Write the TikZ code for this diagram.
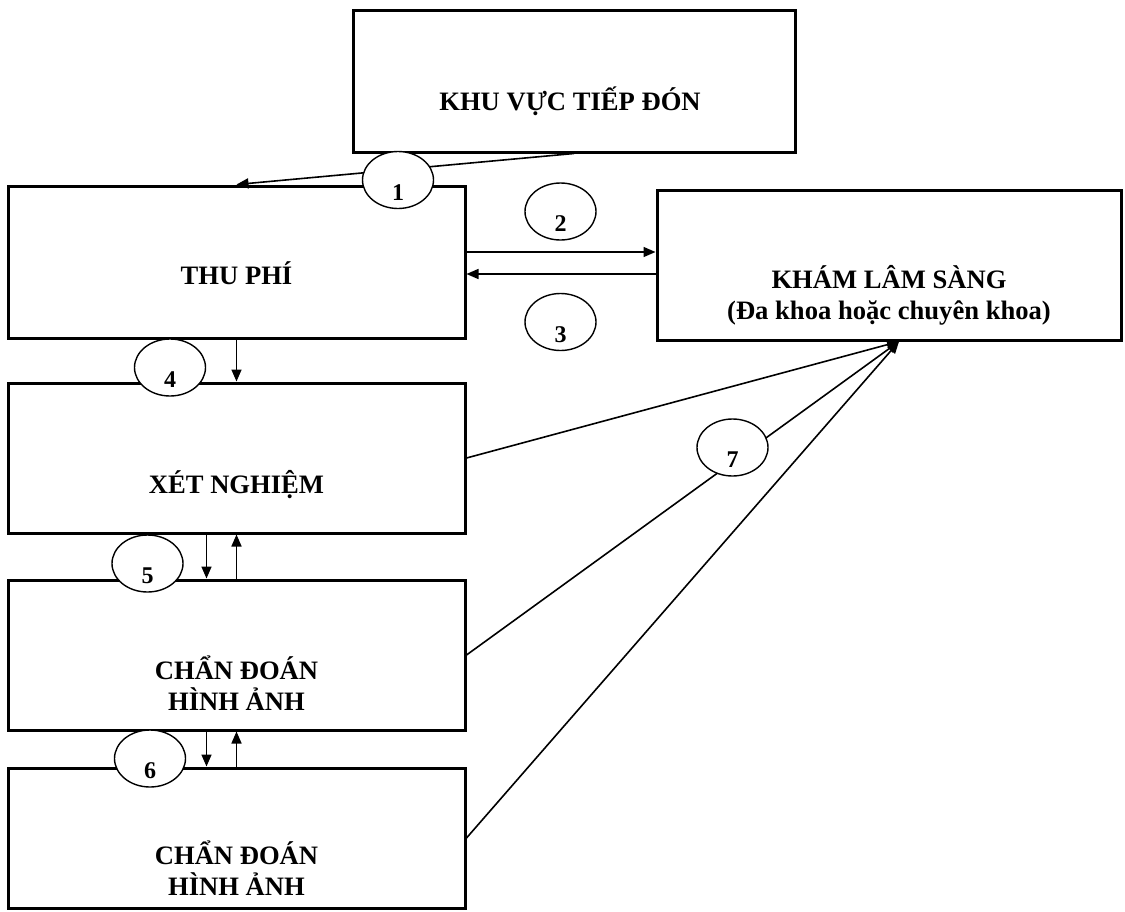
\documentclass[tikz,border=0pt]{standalone}
\usepackage{fontspec}
\setmainfont{Liberation Serif}
\usepackage{tikz}
\usetikzlibrary{positioning,arrows.meta,shapes.geometric}

\tikzset{
  box/.style={draw, line width=1.5pt, minimum width=228.5pt, minimum height=75pt, inner sep=0pt},
  lbl/.style={font=\fontsize{13.3}{15.5}\selectfont\bfseries, align=center},
  num/.style={draw, ellipse, fill=white, line width=0.7pt, minimum width=35.5pt, minimum height=28.5pt,
    inner sep=0pt, text height=20pt, text depth=0pt, font=\fontsize{12}{14}\selectfont\bfseries},
  link/.style={line width=0.8pt}
}

\begin{document}
\begin{tikzpicture}[x=0.5pt, y=-0.5pt, >={Triangle[length=6pt,width=5pt]}]
\useasboundingbox (0,0) rectangle (1125,911);

% boxes
\node[box, minimum width=221pt, minimum height=71pt] (tiepdon) at (574,81) {};
\node[box, minimum height=76pt] (thuphi) at (236.5,262) {};
\node[box] (xetnghiem) at (236.5,458) {};
\node[box] (cdhaA) at (236.5,655) {};
\node[box, minimum height=70pt] (cdhaB) at (236.5,838) {};
\node[box, minimum width=232pt] (kham) at (889,265) {};

% box texts
\node[lbl, anchor=base] (tiepdonT) at (570,110) {KHU VỰC TIẾP ĐÓN};
\node[lbl, anchor=base] (thuphiT) at (236.5,284) {THU PHÍ};
\node[lbl, anchor=base] (xetnghiemT) at (236.5,493) {XÉT NGHIỆM};
\node[lbl] (cdhaAT) at (236.5,683) {CHẨN ĐOÁN\\HÌNH ẢNH};
\node[lbl] (cdhaBT) at (236.5,868) {CHẨN ĐOÁN\\HÌNH ẢNH};
\node[lbl] (khamT) at (889,295) {KHÁM LÂM SÀNG\\(Đa khoa hoặc chuyên khoa)};

% arrows
\coordinate (go) at ([yshift=5pt]thuphi.east);
\coordinate (back) at ([yshift=-6pt]thuphi.east);
\draw[->, link] (tiepdon.south) -- ([xshift=115pt]thuphi.north west);
\draw[->, link] (go) -- (go -| kham.west);
\draw[->, link] (back -| kham.west) -- (back);
\draw[->, link] (thuphi.south) -- (xetnghiem.north);
\draw[->, link] ([xshift=-15pt]xetnghiem.south) -- ([xshift=-15pt]cdhaA.north);
\draw[<-, link] (xetnghiem.south) -- (cdhaA.north);
\draw[->, link] ([xshift=-15pt]cdhaA.south) -- ([xshift=-15pt]cdhaB.north);
\draw[<-, link] (cdhaA.south) -- (cdhaB.north);
\draw[->, link] (xetnghiem.east) -- ([xshift=5pt]kham.south);
\draw[->, link] (cdhaA.east) -- ([xshift=5pt]kham.south);
\draw[->, link] (cdhaB.east) -- ([xshift=5pt]kham.south);

% step numbers
\node[num] (n1) at (398,180) {1};
\node[num] (n2) at (560.5,211.5) {2};
\node[num] (n3) at (560.5,322) {3};
\node[num] (n4) at (170,367.5) {4};
\node[num] (n5) at (147.5,563.5) {5};
\node[num] (n6) at (150,758.5) {6};
\node[num] (n7) at (732.5,447.5) {7};
\end{tikzpicture}
\end{document}
